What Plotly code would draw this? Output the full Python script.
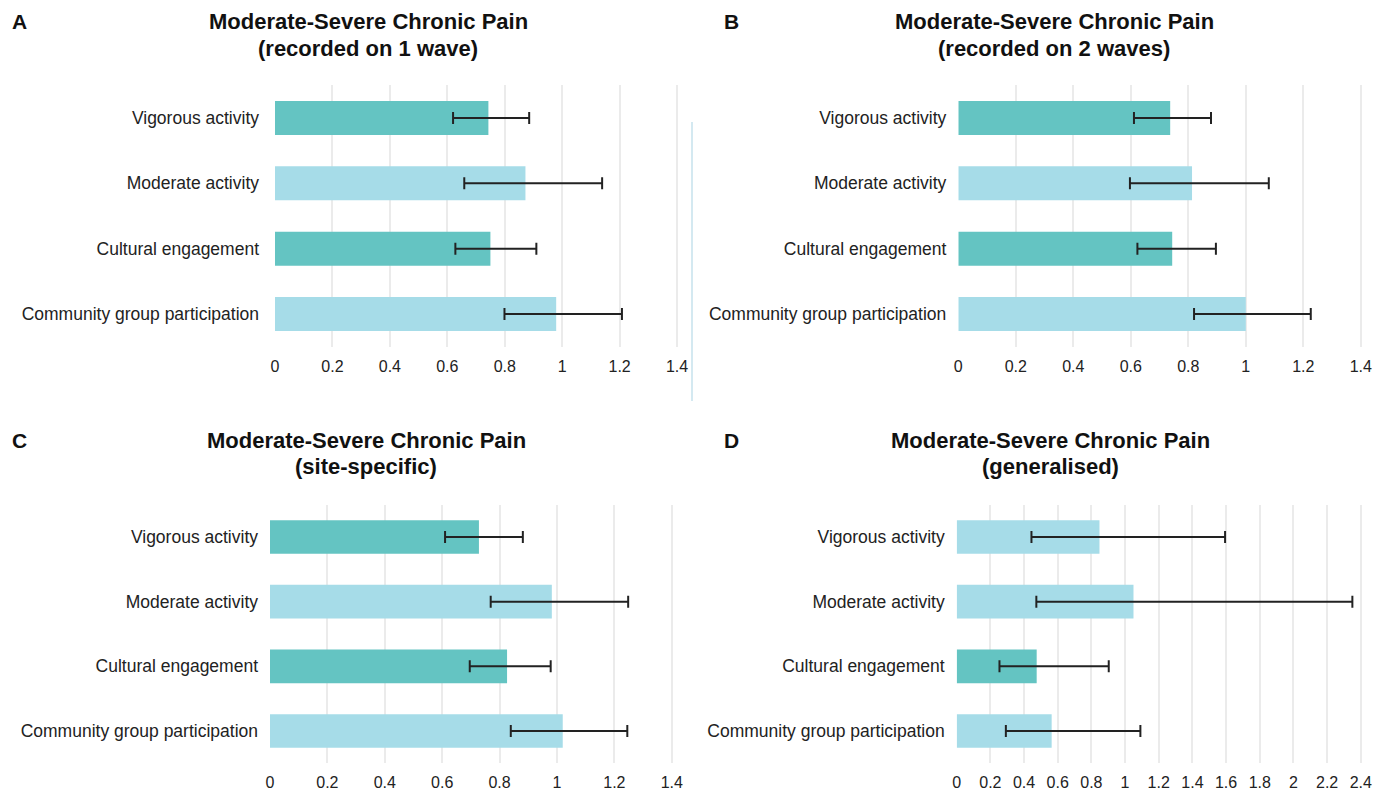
import plotly.graph_objects as go

categories = ["Vigorous activity", "Moderate activity", "Cultural engagement", "Community group participation"]

A_or = [0.743, 0.872, 0.750, 0.979]
A_lo = [0.620, 0.659, 0.628, 0.799]
A_hi = [0.885, 1.139, 0.910, 1.208]

B_or = [0.737, 0.813, 0.744, 1.000]
B_lo = [0.611, 0.597, 0.623, 0.820]
B_hi = [0.879, 1.080, 0.896, 1.226]

C_or = [0.728, 0.982, 0.826, 1.020]
C_lo = [0.610, 0.769, 0.696, 0.839]
C_hi = [0.881, 1.248, 0.978, 1.245]

D_or = [0.848, 1.050, 0.475, 0.564]
D_lo = [0.444, 0.473, 0.254, 0.292]
D_hi = [1.594, 2.350, 0.903, 1.091]

panel_letters = ["A", "B", "C", "D"]
panel_subtitles = ["(recorded on 1 wave)", "(recorded on 2 waves)", "(site-specific)", "(generalised)"]
main_title = "Moderate-Severe Chronic Pain"
x_max = [1.4, 1.4, 1.4, 2.4]

TEAL = "#64C4C2"
LIGHT = "#A6DCE8"
FONT = "Liberation Sans, Arial, sans-serif"

OFF = 8  # page body margin offset
W, H = 1389 - OFF, 796 - OFF
panels = [(A_or, A_lo, A_hi), (B_or, B_lo, B_hi), (C_or, C_lo, C_hi), (D_or, D_lo, D_hi)]
# pixel geometry of plot areas in page pixels (left, right, top, bottom)
geom = [(275, 678.3, 85.3, 346.7), (958.3, 1362, 85.3, 346.7),
        (270, 673, 504.7, 763.3), (956.7, 1362, 504.7, 763.3)]
title_cx = [368, 1054, 366, 1050]
title_y = [22, 22, 440, 440]
letter_x = [10, 722, 10, 722]
ystandoff = [15, 11, 11, 11]


def px(x):
    return (x - OFF) / W


def py(y):
    return 1 - (y - OFF) / H


fig = go.Figure()
layout = dict(width=W, height=H, margin=dict(l=0, r=0, t=0, b=0),
              paper_bgcolor="white", plot_bgcolor="white", showlegend=False,
              font=dict(family=FONT, size=16, color="#222"), bargap=0.48)
annotations = []
for i, (orv, lo, hi) in enumerate(panels):
    sfx = "" if i == 0 else str(i + 1)
    colors = [TEAL if h < 1 else LIGHT for h in hi]
    fig.add_trace(go.Bar(
        x=orv, y=categories, orientation="h",
        marker=dict(color=colors, line=dict(width=0)),
        error_x=dict(type="data", symmetric=False,
                     array=[h - v for h, v in zip(hi, orv)],
                     arrayminus=[v - l for v, l in zip(orv, lo)],
                     color="#222", thickness=2, width=6),
        xaxis="x" + sfx, yaxis="y" + sfx, hoverinfo="skip"))
    l, r, t, b = geom[i]
    layout["xaxis" + sfx] = dict(domain=[px(l), px(r)], range=[0, x_max[i] * 1.003], dtick=0.2, tick0=0,
                                 showgrid=True, gridcolor="#ebebeb", gridwidth=1.5, zeroline=False,
                                 showline=False, ticks="", automargin=False, anchor="y" + sfx,
                                 ticklabelstandoff=8, tickfont=dict(size=16, color="#222"))
    layout["yaxis" + sfx] = dict(domain=[py(b), py(t)], type="category",
                                 categoryorder="array", categoryarray=categories[::-1],
                                 showgrid=False, zeroline=False, showline=False, ticks="",
                                 automargin=False, anchor="x" + sfx, ticklabelstandoff=ystandoff[i],
                                 tickfont=dict(size=17.5, color="#222"))
    annotations.append(dict(text="<b>" + main_title + "</b>",
                            x=px(title_cx[i]), y=py(title_y[i]), xref="paper", yref="paper",
                            xanchor="center", yanchor="middle", showarrow=False,
                            font=dict(size=22, color="#111", family=FONT)))
    annotations.append(dict(text="<b>" + panel_subtitles[i] + "</b>",
                            x=px(title_cx[i]), y=py(title_y[i] + 26), xref="paper", yref="paper",
                            xanchor="center", yanchor="middle", showarrow=False,
                            font=dict(size=22, color="#111", family=FONT)))
    annotations.append(dict(text="<b>" + panel_letters[i] + "</b>", x=px(letter_x[i]),
                            y=py(title_y[i]), xref="paper", yref="paper",
                            xanchor="left", yanchor="middle", showarrow=False,
                            font=dict(size=21, color="#111", family=FONT)))

layout["annotations"] = annotations
layout["shapes"] = [dict(type="line", xref="paper", yref="paper", x0=px(692), x1=px(692),
                         y0=py(401), y1=py(122), line=dict(color="#A9D3E3", width=1))]
fig.update_layout(**layout)
fig.write_html("out.html")
